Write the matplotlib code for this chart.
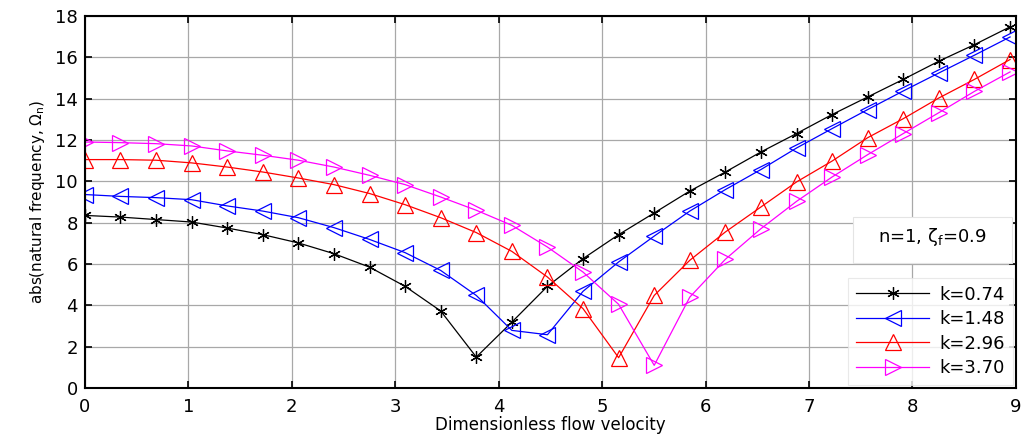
import matplotlib
matplotlib.use("Agg")
import matplotlib.pyplot as plt
from matplotlib.patches import Rectangle

plt.rcParams['font.family'] = ['DejaVu Sans']
plt.rcParams['mathtext.fontset'] = 'dejavusans'

x = [0, 0.344, 0.688, 1.032, 1.376, 1.72, 2.064, 2.408, 2.752, 3.096, 3.44, 3.784,
     4.128, 4.472, 4.816, 5.16, 5.504, 5.848, 6.192, 6.536, 6.88, 7.224, 7.568,
     7.912, 8.256, 8.6, 8.944]

k074 = [8.35, 8.27, 8.15, 8.03, 7.74, 7.42, 7.02, 6.50, 5.85, 4.92, 3.73, 1.50,
        3.19, 4.92, 6.26, 7.42, 8.47, 9.53, 10.45, 11.42, 12.31, 13.23, 14.08,
        14.93, 15.81, 16.61, 17.47]
k148 = [9.36, 9.27, 9.21, 9.11, 8.81, 8.56, 8.24, 7.76, 7.19, 6.55, 5.69, 4.48,
        2.79, 2.58, 4.68, 6.10, 7.35, 8.56, 9.60, 10.57, 11.61, 12.55, 13.47,
        14.37, 15.24, 16.10, 16.98]
k296 = [11.05, 11.05, 11.02, 10.89, 10.69, 10.45, 10.16, 9.84, 9.41, 8.87, 8.24,
        7.52, 6.61, 5.37, 3.84, 1.47, 4.48, 6.18, 7.55, 8.76, 9.97, 10.98, 12.11,
        13.03, 14.03, 14.93, 15.89]
k370 = [11.90, 11.87, 11.82, 11.71, 11.47, 11.26, 11.02, 10.69, 10.29, 9.84, 9.24,
        8.60, 7.87, 6.82, 5.61, 4.05, 1.10, 4.40, 6.23, 7.71, 9.03, 10.21, 11.29,
        12.31, 13.32, 14.35, 15.29]

labels = ['k=0.74', 'k=1.48', 'k=2.96', 'k=3.70']
xticks = [0, 1, 2, 3, 4, 5, 6, 7, 8, 9]
yticks = [0, 2, 4, 6, 8, 10, 12, 14, 16, 18]

fig = plt.figure(figsize=(10.22, 4.41), dpi=100)
ax = fig.add_axes([0.083, 0.12, 0.911, 0.844])

ax.plot(x, k074, color='black', marker=(6, 2, 0), markersize=9, lw=0.9,
        markeredgewidth=0.9, label=labels[0])
ax.plot(x, k148, color='blue', marker='<', markersize=12, lw=0.9,
        markerfacecolor='none', markeredgewidth=0.9, label=labels[1])
ax.plot(x, k296, color='red', marker='^', markersize=12, lw=0.9,
        markerfacecolor='none', markeredgewidth=0.9, label=labels[2])
ax.plot(x, k370, color='magenta', marker='>', markersize=12, lw=0.9,
        markerfacecolor='none', markeredgewidth=0.9, label=labels[3])

ax.set_xlim(0, 9)
ax.set_ylim(0, 18)
ax.set_xticks(xticks)
ax.set_yticks(yticks)
ax.grid(True, color='#a8a8a8', lw=0.9)
ax.set_axisbelow(True)
ax.tick_params(direction='in', top=True, right=True, labelsize=13, length=5,
               width=1.2)
ax.tick_params(axis='x', pad=7)
ax.tick_params(axis='y', pad=5)
for s in ax.spines.values():
    s.set_linewidth(1.5)

ax.set_xlabel('Dimensionless flow velocity', fontsize=12, labelpad=0)
ax.set_ylabel('abs(natural frequency, $\\mathregular{\\Omega_n}$)', fontsize=11,
              labelpad=6)

leg = ax.legend(loc='lower right', fontsize=13, frameon=True, fancybox=False,
                edgecolor='#e4e4e4', handlelength=4.0, borderaxespad=0.15,
                labelspacing=0.36, handletextpad=0.6, borderpad=0.45)
leg.get_frame().set_linewidth(0.8)

ax.add_patch(Rectangle((0.825, 0.336), 0.171, 0.124, transform=ax.transAxes,
                       facecolor='white', edgecolor='#e4e4e4', lw=0.8, zorder=4))
ax.text(0.91, 0.405, 'n=1, $\\mathregular{\\zeta_f}$=0.9', transform=ax.transAxes,
        ha='center', va='center', fontsize=13, zorder=5)

fig.savefig('out.png', dpi=100)
